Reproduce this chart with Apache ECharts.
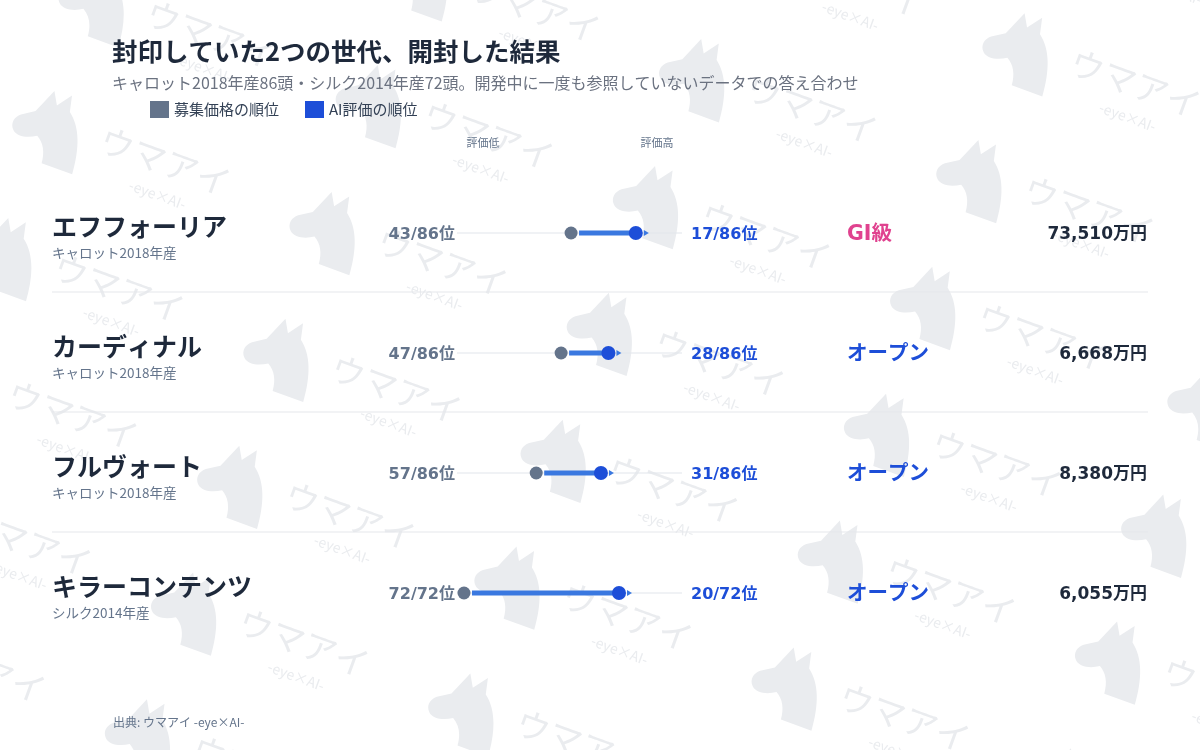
<!DOCTYPE html>
<html><head><meta charset="utf-8">
<script src="https://cdn.jsdelivr.net/npm/echarts@6/dist/echarts.min.js"></script>
<style>html,body{margin:0;padding:0;background:#fff}#c{width:1200px;height:750px}</style>
</head><body><div id="c"></div>
<script>
// ---- data ----
const names = ['エフフォーリア', 'カーディナル', 'フルヴォート', 'キラーコンテンツ'];
const origins = ['キャロット2018年産', 'キャロット2018年産', 'キャロット2018年産', 'シルク2014年産'];
const priceRank = [43, 47, 57, 72];
const aiRank = [17, 28, 31, 20];
const cohortSize = [86, 86, 86, 72];
const classes = ['GI級', 'オープン', 'オープン', 'オープン'];
const prizeMan = [73510, 6668, 8380, 6055];
const axisHeaders = ['評価低', '評価高'];
const seriesNames = ['募集価格の順位', 'AI評価の順位'];

const FONT = '"Noto Sans CJK JP", "Noto Sans", sans-serif';
const NUMFONT = '"DejaVu Sans", "Noto Sans CJK JP", sans-serif';
const score = (r, n) => 1 - (r - 1) / (n - 1);
const priceScore = priceRank.map((r, i) => score(r, cohortSize[i]));
const aiScore = aiRank.map((r, i) => score(r, cohortSize[i]));

// ---- watermark tiles (decoration) ----
const horsePath = 'M -22 -12 L -10 -40 L -2 -26 L 10 -42 L 14 -24 C 30 -12 38 10 40 40 L 4 40 C 3 27 -2 18 -11 13 C -20 19 -32 22 -38 16 C -44 10 -42 2 -36 -3 Z';
const ang = 20 * Math.PI / 180;
function buildWatermark() {
  const wm = [];
  const rv = [-Math.sin(ang) * 135, Math.cos(ang) * 135];
  const cv = [Math.cos(ang) * 295, Math.sin(ang) * 295];
  for (let c = -5; c <= 3; c++) {
    for (let r = -4; r <= 10; r++) {
      const x = 1020 + c * cv[0] + r * rv[0];
      const y = 50 + c * cv[1] + r * rv[1];
      if (x < -260 || x > 1320 || y < -120 || y > 860) continue;
      wm.push({
        type: 'group', x: x, y: y, rotation: -ang,
        children: [
          { type: 'path', shape: { pathData: horsePath, x: -40, y: -38, width: 80, height: 74 }, style: { fill: '#eaecef' } },
          { type: 'text', x: 120, y: -8, style: { text: 'ウマアイ', fontSize: 34, fontFamily: FONT, fill: '#eaecef', align: 'center', verticalAlign: 'middle' } },
          { type: 'text', x: 124, y: 26, style: { text: '-eye×AI-', fontSize: 14, fontFamily: FONT, fill: '#eaecef', align: 'center', verticalAlign: 'middle' } }
        ]
      });
    }
  }
  return wm;
}

const chart = echarts.init(document.getElementById('c'));
const rowData = names.map((n, i) => [priceScore[i], aiScore[i], i]);

chart.setOption({
  backgroundColor: '#ffffff',
  animation: false,
  title: [
    { text: '封印していた2つの世代、開封した結果', left: 112, top: 39, padding: 0,
      textStyle: { fontSize: 25.5, fontWeight: 'bold', color: '#1e293b', fontFamily: FONT } },
    { text: 'キャロット2018年産86頭・シルク2014年産72頭。開発中に一度も参照していないデータでの答え合わせ', left: 112, top: 75, padding: 0,
      textStyle: { fontSize: 16, fontWeight: 'normal', color: '#6b7280', fontFamily: FONT } },
    { text: axisHeaders[0], left: 483, top: 137, textAlign: 'center', padding: 0,
      textStyle: { fontSize: 11, fontWeight: 'normal', color: '#64748b', fontFamily: FONT } },
    { text: axisHeaders[1], left: 657, top: 137, textAlign: 'center', padding: 0,
      textStyle: { fontSize: 11, fontWeight: 'normal', color: '#64748b', fontFamily: FONT } },
    { text: '出典: ウマアイ -eye×AI-', left: 113, top: 716, padding: 0,
      textStyle: { fontSize: 12, fontWeight: 'normal', color: '#64748b', fontFamily: FONT } }
  ],
  legend: {
    left: 150, top: 101, padding: 0, itemWidth: 19, itemHeight: 17, itemGap: 26, icon: 'rect',
    data: seriesNames,
    textStyle: { fontSize: 15, color: '#334155', fontFamily: FONT }
  },
  grid: { left: 457, width: 225, top: 173, height: 480 },
  xAxis: { type: 'value', min: -0.033, max: 1.03, show: false },
  yAxis: { type: 'category', data: names, inverse: true, show: false },
  series: [
    {
      type: 'custom', name: 'watermark', coordinateSystem: 'none', z: 0, silent: true,
      data: [0],
      renderItem: function () { return { type: 'group', children: buildWatermark() }; }
    },
    {
      type: 'custom', name: 'rows', z: 1, silent: true,
      data: rowData,
      renderItem: function (params, api) {
        const i = api.value(2);
        const p = api.coord([api.value(0), i]);
        const a = api.coord([api.value(1), i]);
        const t0 = api.coord([-0.033, i]);
        const t1 = api.coord([1.03, i]);
        const y = p[1];
        const ch = [
          { type: 'line', shape: { x1: t0[0], y1: y, x2: t1[0], y2: y }, style: { stroke: '#e2e6ec', lineWidth: 1.2 } },
          { type: 'line', shape: { x1: p[0] + 8, y1: y, x2: a[0] - 3, y2: y }, style: { stroke: '#3a78e0', lineWidth: 5 } },
          { type: 'polygon', shape: { points: [[a[0] + 8, y - 3], [a[0] + 13, y], [a[0] + 8, y + 3]] }, style: { fill: '#3a78e0' } },
          { type: 'text', x: 52, y: y - 7, style: { text: names[i], fontSize: 25, fontWeight: 'bold', fontFamily: FONT, fill: '#1e293b', align: 'left', verticalAlign: 'middle' } },
          { type: 'text', x: 52, y: y + 20, style: { text: origins[i], fontSize: 13.5, fontFamily: FONT, fill: '#64748b', align: 'left', verticalAlign: 'middle' } },
          { type: 'text', x: 455, y: y + 1.5, style: { text: priceRank[i] + '/' + cohortSize[i] + '位', fontSize: 16, fontWeight: 'bold', fontFamily: NUMFONT, fill: '#64748b', align: 'right', verticalAlign: 'middle' } },
          { type: 'text', x: 691, y: y + 1.5, style: { text: aiRank[i] + '/' + cohortSize[i] + '位', fontSize: 16, fontWeight: 'bold', fontFamily: NUMFONT, fill: '#1d4ed8', align: 'left', verticalAlign: 'middle' } },
          { type: 'text', x: 847, y: y + 2, style: { text: classes[i], fontSize: 20.5, fontWeight: 'bold', fontFamily: NUMFONT, fill: classes[i] === 'GI級' ? '#e0428f' : '#1d4ed8', align: 'left', verticalAlign: 'middle' } },
          { type: 'text', x: 1147, y: y + 2, style: { text: prizeMan[i].toLocaleString('en-US') + '万円', fontSize: 17, fontWeight: 'bold', fontFamily: NUMFONT, fill: '#1e293b', align: 'right', verticalAlign: 'middle' } }
        ];
        if (i < names.length - 1) {
          ch.push({ type: 'line', shape: { x1: 52, y1: y + 59, x2: 1148, y2: y + 59 }, style: { stroke: '#e5e7eb', lineWidth: 1 } });
        }
        return { type: 'group', children: ch };
      }
    },
    {
      type: 'scatter', name: seriesNames[0], z: 3, symbol: 'circle', symbolSize: 13,
      itemStyle: { color: '#64748b', opacity: 1 },
      data: priceScore.map((v, i) => [v, i])
    },
    {
      type: 'scatter', name: seriesNames[1], z: 4, symbol: 'circle', symbolSize: 14,
      itemStyle: { color: '#1d4ed8', opacity: 1 },
      data: aiScore.map((v, i) => [v, i])
    }
  ]
});
</script></body></html>
